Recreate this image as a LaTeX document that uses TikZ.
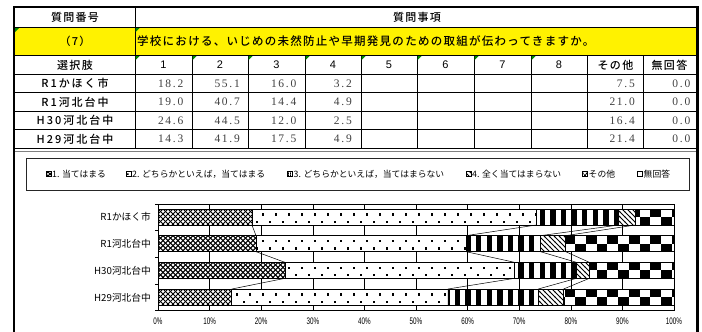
\documentclass[tikz,border=0pt]{standalone}
\usepackage{fontspec}
\setmainfont{Liberation Serif}
\newfontfamily\jp{Noto Sans CJK JP}
\newfontfamily\jpw[LetterSpace=12, UprightFont=* Medium]{Noto Sans CJK JP}
\newfontfamily\jpr[LetterSpace=18, UprightFont=* Medium]{Noto Sans CJK JP}
\newfontfamily\jpq[LetterSpace=11, UprightFont=* Medium]{Noto Sans CJK JP}
\newfontfamily\numf[LetterSpace=15]{Liberation Serif}
\newfontfamily\arialf{Liberation Sans}
\newfontfamily\narrowf[FakeStretch=0.66]{Liberation Sans}
\usetikzlibrary{patterns}

\pgfdeclarepatternformonly{pcheck}{\pgfqpoint{-1pt}{-1pt}}{\pgfqpoint{5pt}{5pt}}{\pgfqpoint{4pt}{4pt}}{%
  \pgfsetlinewidth{0.75pt}%
  \pgfpathmoveto{\pgfqpoint{-1pt}{-1pt}}\pgfpathlineto{\pgfqpoint{5pt}{5pt}}%
  \pgfpathmoveto{\pgfqpoint{-1pt}{5pt}}\pgfpathlineto{\pgfqpoint{5pt}{-1pt}}%
  \pgfusepath{stroke}}
\pgfdeclarepatternformonly{pdots}{\pgfqpoint{0pt}{0pt}}{\pgfqpoint{6pt}{6pt}}{\pgfqpoint{6pt}{6pt}}{%
  \pgfpathrectangle{\pgfqpoint{1pt}{1pt}}{\pgfqpoint{1.5pt}{1.5pt}}%
  \pgfpathrectangle{\pgfqpoint{4pt}{4pt}}{\pgfqpoint{1.5pt}{1.5pt}}%
  \pgfusepath{fill}}
\pgfdeclarepatternformonly{pvsmall}{\pgfqpoint{0pt}{0pt}}{\pgfqpoint{2pt}{2pt}}{\pgfqpoint{2pt}{2pt}}{%
  \pgfpathrectangle{\pgfqpoint{0pt}{0pt}}{\pgfqpoint{1pt}{2pt}}%
  \pgfusepath{fill}}
\pgfdeclarepatternformonly{pdiag}{\pgfqpoint{-0.5pt}{-0.5pt}}{\pgfqpoint{5.5pt}{5.5pt}}{\pgfqpoint{5pt}{5pt}}{%
  \pgfsetlinewidth{0.8pt}%
  \pgfpathmoveto{\pgfqpoint{-1pt}{6pt}}\pgfpathlineto{\pgfqpoint{6pt}{-1pt}}%
  \pgfusepath{stroke}}
\pgfdeclarepatternformonly{pbig}{\pgfqpoint{0pt}{0pt}}{\pgfqpoint{4pt}{4pt}}{\pgfqpoint{4pt}{4pt}}{%
  \pgfpathrectangle{\pgfqpoint{0pt}{0pt}}{\pgfqpoint{2pt}{2pt}}%
  \pgfpathrectangle{\pgfqpoint{2pt}{2pt}}{\pgfqpoint{2pt}{2pt}}%
  \pgfusepath{fill}}

\tikzset{
  grid line/.style={line width=0.8pt, black},
  hdr/.style={font=\jpw\fontsize{11}{11}\selectfont, inner sep=0pt},
  rowlab/.style={font=\jpr\fontsize{11}{11}\selectfont, inner sep=0pt},
  numhdr/.style={font=\arialf\fontsize{11}{11}\selectfont, inner sep=0pt},
  val/.style={font=\numf\fontsize{11.5}{11.5}\selectfont, text=black!75, inner sep=0pt, anchor=east},
  green mark/.style={fill=green!55!black},
  barseg/.style={draw=black, line width=0.6pt},
  sline/.style={black, line width=0.5pt},
  xline/.style={black, line width=1pt},
  legtext/.style={font=\jp\fontsize{8.8}{8.8}\selectfont, inner sep=0pt, anchor=west},
  legmark/.style={draw=black, line width=0.5pt},
  catlab/.style={font=\jp\fontsize{9.7}{9.7}\selectfont, inner sep=0pt, anchor=east},
  axlab/.style={font=\narrowf\fontsize{9.5}{9.5}\selectfont, inner sep=0pt},
}

\begin{document}
\begin{tikzpicture}[x=1pt, y=-1pt]
\useasboundingbox (0,0) rectangle (702,332);
\fill[white] (0,0) rectangle (702,332);

% ---------- table ----------
\fill[yellow] (14,27.5) rectangle (697,55.5);
\draw[grid line] (14,27.5) -- (697,27.5);
\draw[grid line] (14,55.5) -- (697,55.5);
\foreach \yy in {74,92.5,111,129.5,148}
  \draw[grid line] (14,\yy) -- (697,\yy);
\draw[grid line] (135,7) -- (135,148);
\foreach \xx in {192,248,305,361,417,474,531,587,643}
  \draw[grid line] (\xx,55.5) -- (\xx,148);
\draw[gray, line width=1pt] (15,151) -- (696,151);

% green corner marks
\foreach \xx in {135,192,248,305,361,417,474,531}
  \fill[green mark] (\xx+0.5,56) -- ++(4,0) -- ++(-4,4) -- cycle;
\fill[green mark] (15,28) -- ++(4,0) -- ++(-4,4) -- cycle;
\fill[green mark] (135.5,28) -- ++(4,0) -- ++(-4,4) -- cycle;

% outer frame
\draw[line width=2.2pt] (14,333) -- (14,7) -- (697.5,7) -- (697.5,333);

% headers
\node[hdr] (hno) at (75,17.5) {質問番号};
\node[hdr] (hq) at (417,17.5) {質問事項};
\node[font=\jpw\fontsize{11}{11}\selectfont, inner sep=0pt] (qno) at (75,41.5) {（7）};
\node[font=\jpq\fontsize{11.5}{11.5}\selectfont, inner sep=0pt, anchor=west] (qtext) at (137,41.5)
  {学校における、いじめの未然防止や早期発見のための取組が伝わってきますか。};
\node[hdr] (hsel) at (75,65) {選択肢};
\foreach \xx/\t [count=\i] in {163.5/1,220/2,276.5/3,333/4,389/5,445.5/6,502.5/7,559/8}
  \node[numhdr] (c\i) at (\xx,65) {\t};
\node[hdr] (cother) at (615.5,65) {その他};
\node[hdr] (cnone) at (669.5,65) {無回答};

% row labels
\node[rowlab] (r1) at (75,83.5) {R1かほく市};
\node[rowlab] (r2) at (75,102) {R1河北台中};
\node[rowlab] (r3) at (75,120.5) {H30河北台中};
\node[rowlab] (r4) at (75,139) {H29河北台中};

% values
\foreach \yy/\a/\b/\c/\d/\e/\f [count=\i] in
  {83.5/18.2/55.1/16.0/3.2/7.5/0.0,
   102/19.0/40.7/14.4/4.9/21.0/0.0,
   120.5/24.6/44.5/12.0/2.5/16.4/0.0,
   139/14.3/41.9/17.5/4.9/21.4/0.0}{
  \node[val] (v\i a) at (183.5,\yy) {\a};
  \node[val] (v\i b) at (240,\yy) {\b};
  \node[val] (v\i c) at (296.5,\yy) {\c};
  \node[val] (v\i d) at (352,\yy) {\d};
  \node[val] (v\i e) at (635,\yy) {\e};
  \node[val] (v\i f) at (690.5,\yy) {\f};
}

% ---------- chart ----------
\draw[black!85, line width=0.7pt] (26,158) rectangle (689,190);
\foreach \mx/\pat/\t [count=\i] in
  {46/pcheck/1. 当てはまる,
   126/pdots/2. どちらかといえば，当てはまる,
   287.5/pvsmall/3. どちらかといえば，当てはまらない,
   466/pdiag/4. 全く当てはまらない,
   582.5/pbig/その他}{
  \path[legmark, pattern=\pat] (\mx,171.5) rectangle ++(5,5);
  \node[legtext] (leg\i) at (\mx+6,174) {\t};
}
\path[legmark] (637.5,171.5) rectangle ++(5,5);
\node[legtext] (leg6) at (643.5,174) {無回答};

% plot area
\draw[black, line width=0.7pt] (158,204) rectangle (674,310.67);
\foreach \k in {1,...,9}
  \draw[black, line width=0.6pt] ({158+51.6*\k},204) -- ({158+51.6*\k},310.67);
\foreach \yy in {204,230.67,257.33,284,310.67}
  \draw[black, line width=0.6pt] (155,\yy) -- (158,\yy);

\foreach \yt/\a/\b/\c/\d in
  {209/18.2/73.3/89.3/92.5,
   235.67/19.0/59.7/74.1/79.0,
   262.33/24.6/69.1/81.1/83.6,
   289/14.3/56.2/73.7/78.6}{
  \pgfmathsetmacro\xa{158+5.16*\a}
  \pgfmathsetmacro\xb{158+5.16*\b}
  \pgfmathsetmacro\xc{158+5.16*\c}
  \pgfmathsetmacro\xd{158+5.16*\d}
  \pgfmathsetmacro\yb{\yt+16}
  \fill[white] (158,\yt) rectangle (674,\yb);
  % 1: cross-hatch
  \begin{scope}
    \clip (158,\yt) rectangle (\xa,\yb);
    \foreach \k in {-4,...,30} {
      \draw[xline] ({158+5*\k},\yt) -- ++(16,16);
      \draw[xline] ({158+5*\k},\yt) -- ++(-16,16);
    }
  \end{scope}
  % 2: sparse dots
  \begin{scope}
    \clip (\xa,\yt) rectangle (\xb,\yb);
    \foreach \k in {0,...,80}
      \fill ({158+6.5*\k},{\yt+4.3+7.5*mod(\k,2)}) rectangle ++(2.2,2.2);
  \end{scope}
  % 3: vertical stripes
  \begin{scope}
    \clip (\xb,\yt) rectangle (\xc,\yb);
    \foreach \k in {0,...,49}
      \fill ({158+10.6*\k},\yt) rectangle ++(5.3,16);
  \end{scope}
  % 4: diagonal
  \path[pattern=pdiag] (\xc,\yt) rectangle (\xd,\yb);
  % 5: big checker
  \begin{scope}
    \clip (\xd,\yt) rectangle (674,\yb);
    \foreach \k in {0,...,49}
      \fill ({158+10.7*\k},{\yt+8*mod(\k,2)}) rectangle ++(10.7,8);
  \end{scope}
  \draw[barseg] (158,\yt) rectangle (\xa,\yb);
  \draw[barseg] (\xa,\yt) rectangle (\xb,\yb);
  \draw[barseg] (\xb,\yt) rectangle (\xc,\yb);
  \draw[barseg] (\xc,\yt) rectangle (\xd,\yb);
  \draw[barseg] (\xd,\yt) rectangle (674,\yb);
}

% series lines
\foreach \p/\q in {18.2/19.0,73.3/59.7,89.3/74.1,92.5/79.0}
  \draw[sline] ({158+5.16*\p},225) -- ({158+5.16*\q},235.67);
\foreach \p/\q in {19.0/24.6,59.7/69.1,74.1/81.1,79.0/83.6}
  \draw[sline] ({158+5.16*\p},251.67) -- ({158+5.16*\q},262.33);
\foreach \p/\q in {24.6/14.3,69.1/56.2,81.1/73.7,83.6/78.6}
  \draw[sline] ({158+5.16*\p},278.33) -- ({158+5.16*\q},289);

% category labels
\node[catlab] (k1) at (151,217.3) {R1かほく市};
\node[catlab] (k2) at (151,244) {R1河北台中};
\node[catlab] (k3) at (151,270.7) {H30河北台中};
\node[catlab] (k4) at (151,297.3) {H29河北台中};

% axis labels
\foreach \k in {0,...,10}
  \node[axlab] (ax\k) at ({158+51.6*\k},321) {\the\numexpr\k*10\relax\%};
\end{tikzpicture}
\end{document}
